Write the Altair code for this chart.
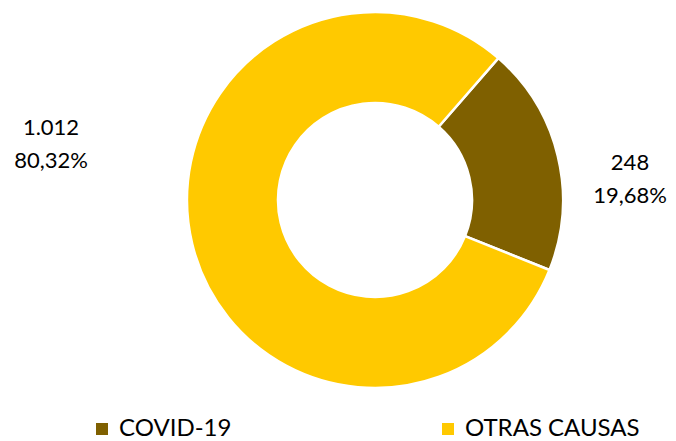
import altair as alt
import pandas as pd
import math

categories = ["COVID-19", "OTRAS CAUSAS"]
values = [248, 1012]
labels_count = ["248", "1.012"]
labels_pct = ["19,68%", "80,32%"]
colors = ["#7F6000", "#FFC900"]

df = pd.DataFrame({
    "cat": categories,
    "val": values,
    "order": [0, 1],
    "l1": labels_count,
    "l2": labels_pct,
})

start = math.radians(41)
cx, cy = 367, 192

base = alt.Chart(df)

arc = base.mark_arc(outerRadius=188, innerRadius=97, stroke="white", strokeWidth=2.5).encode(
    theta=alt.Theta("val:Q", stack=True, scale=alt.Scale(range=[start, start + 2 * math.pi])),
    order=alt.Order("order:Q"),
    color=alt.Color(
        "cat:N",
        scale=alt.Scale(domain=categories, range=colors),
        legend=alt.Legend(
            title=None, orient="none", legendX=82, legendY=409, direction="horizontal",
            columns=2, symbolType="square", symbolSize=144, symbolStrokeWidth=0,
            labelFont="Lato", labelFontSize=24, labelColor="#000000", labelLimit=400,
            columnPadding=204, labelOffset=5,
        ),
    ),
    x=alt.value(cx),
    y=alt.value(cy),
)


def label(cat, x, y):
    return base.transform_filter(alt.datum.cat == cat).transform_calculate(
        lbl="[datum.l1, datum.l2]"
    ).mark_text(
        font="Lato", fontSize=22, color="#000000", align="center", baseline="middle", lineHeight=33
    ).encode(text=alt.Text("lbl:N"), x=alt.value(x), y=alt.value(y))


lab1 = label("COVID-19", 622, 155)
lab2 = label("OTRAS CAUSAS", 43, 120)

chart = alt.layer(arc, lab1, lab2).properties(
    width=660, height=433, padding=0, autosize=alt.AutoSizeParams(type="none")
).configure_view(stroke=None)

chart.save("out.html", embed_options={"renderer": "svg", "actions": False})
